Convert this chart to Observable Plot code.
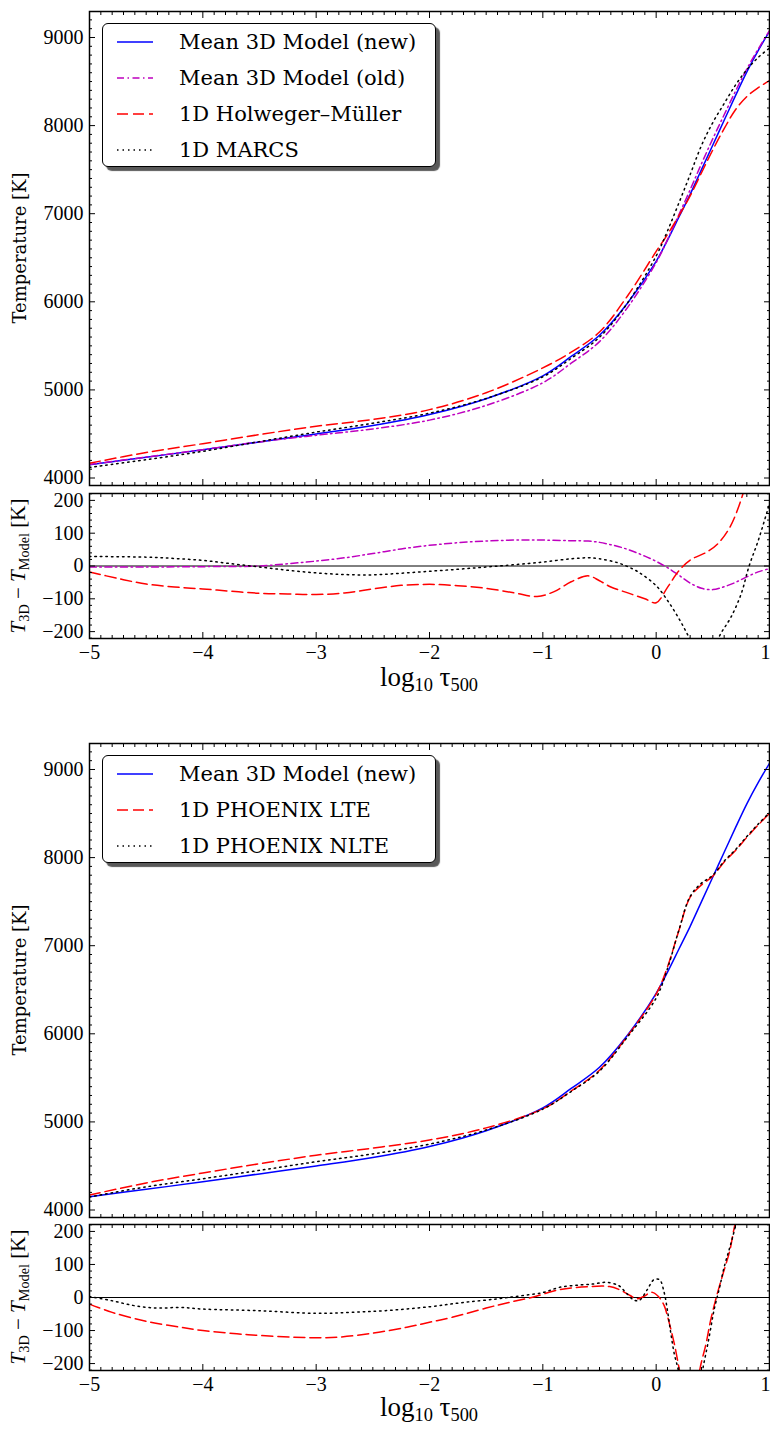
<!DOCTYPE html>
<html><head><meta charset="utf-8">
<script src="https://cdn.jsdelivr.net/npm/d3@7"></script>
<script src="https://cdn.jsdelivr.net/npm/@observablehq/plot@0.6"></script>
<style>
body{margin:0;background:#fff;}
#root{position:relative;width:770px;height:1430px;overflow:hidden;background:#fff;}
.pan{position:absolute;left:0;}
.lab{position:absolute;white-space:nowrap;color:#000;line-height:1;}
.rot{transform:translate(-50%,-50%) rotate(-90deg);}
.ctr{transform:translate(-50%,-50%);}
sub{font-size:0.68em;vertical-align:-0.32em;line-height:0;}
.leg{position:absolute;left:102px;width:334px;border:1.5px solid #000;border-radius:6px;background:#fff;box-shadow:4px 4px 1px rgba(0,0,0,0.65);box-sizing:border-box;}
.legt{position:absolute;left:76px;transform:translateY(-50%);font-family:'DejaVu Serif',serif;font-size:21px;line-height:1;white-space:nowrap;color:#000;}
.legs{position:absolute;left:13px;}
</style></head>
<body><div id="root"></div>
<script>
// ---------- data ----------
// temperature grid (log10 tau500)
const tauT = [-5, -4.5, -4, -3.5, -3, -2.5, -2, -1.5, -1, -0.75, -0.5, -0.25, 0, 0.1, 0.2, 0.3, 0.4, 0.5, 0.6, 0.7, 0.8, 0.9, 1];
const T_new   = [4150, 4235, 4320, 4410, 4500, 4595, 4720, 4900, 5160, 5380, 5620, 5990, 6460, 6700, 6960, 7220, 7500, 7780, 8060, 8340, 8610, 8850, 9070];
const T_old   = [4153, 4238, 4322, 4410, 4485, 4557, 4657, 4824, 5081, 5303, 5548, 5940, 6446, 6705, 6988, 7272, 7568, 7852, 8123, 8390, 8643, 8868, 9078];
const T_HM    = [4168, 4290, 4390, 4493, 4587, 4665, 4776, 4968, 5250, 5428, 5658, 6072, 6572, 6765, 6975, 7202, 7465, 7725, 7965, 8180, 8330, 8430, 8510];
const T_MARCS = [4121, 4208, 4303, 4413, 4521, 4622, 4736, 4903, 5148, 5358, 5598, 5992, 6520, 6805, 7120, 7445, 7775, 8035, 8250, 8460, 8635, 8773, 8880];
const T_LTE   = [4170, 4307, 4420, 4525, 4622, 4703, 4795, 4932, 5148, 5350, 5587, 5980, 6450, 6760, 7170, 7550, 7690, 7790, 7950, 8080, 8230, 8370, 8500];
const T_NLTE  = [4147, 4263, 4355, 4450, 4548, 4637, 4748, 4908, 5145, 5345, 5577, 5970, 6406, 6740, 7175, 7560, 7710, 7800, 7960, 8090, 8240, 8380, 8510];

// residuals T3D - Tmodel, panel 1
const tauOld = [-5, -4.5, -4, -3.5, -3.25, -3, -2.75, -2.5, -2.25, -2, -1.75, -1.5, -1.25, -1, -0.75, -0.6, -0.5, -0.4, -0.3, -0.2, -0.1, 0, 0.1, 0.2, 0.3, 0.4, 0.5, 0.6, 0.7, 0.8, 0.9, 1];
const resOld = [-3, -3, -2, 0, 7, 15, 25, 38, 52, 63, 71, 76, 79, 79, 77, 76, 72, 65, 56, 44, 30, 14, -5, -28, -52, -68, -72, -63, -50, -33, -18, -8];
const tauHM = [-5, -4.75, -4.5, -4.25, -4, -3.75, -3.5, -3.25, -3, -2.75, -2.5, -2.25, -2, -1.75, -1.5, -1.25, -1.05, -0.9, -0.75, -0.6, -0.5, -0.4, -0.25, -0.1, 0, 0.1, 0.2, 0.3, 0.45, 0.55, 0.65, 0.75, 0.85, 1];
const resHM = [-18, -38, -55, -64, -70, -77, -83, -85, -87, -82, -70, -59, -56, -60, -68, -82, -93, -78, -48, -30, -45, -64, -82, -100, -112, -65, -15, 18, 43, 70, 118, 203, 330, 560];
const tauMARCS = [-5, -4.5, -4.25, -4, -3.75, -3.5, -3.25, -3, -2.75, -2.5, -2.25, -2, -1.75, -1.5, -1.25, -1, -0.75, -0.6, -0.5, -0.35, -0.25, -0.15, 0, 0.1, 0.2, 0.28, 0.35, 0.42, 0.5, 0.57, 0.66, 0.75, 0.82, 0.9, 1];
const resMARCS = [29, 27, 23, 17, 7, -3, -13, -21, -26, -27, -22, -16, -10, -3, 4, 12, 22, 25, 22, 11, -2, -20, -60, -105, -160, -211, -262, -285, -255, -206, -156, -85, 0, 77, 190];

// residuals panel 2
const tauLTE = [-5, -4.8, -4.5, -4.2, -4, -3.7, -3.5, -3.2, -3, -2.8, -2.5, -2.2, -2, -1.8, -1.5, -1.3, -1.1, -0.85, -0.6, -0.41, -0.32, -0.23, -0.17, -0.11, -0.04, 0.02, 0.07, 0.11, 0.16, 0.2, 0.3, 0.39, 0.44, 0.48, 0.53, 0.59, 0.65, 0.69, 0.75];
const resLTE = [-20, -45, -72, -90, -100, -110, -115, -120, -122, -120, -108, -90, -75, -60, -32, -15, 0, 24, 33, 33, 23, 6, -4, 3, 16, 3, -24, -70, -140, -210, -380, -210, -140, -70, 0, 72, 142, 213, 290];
const tauNLTE = [-5, -4.8, -4.6, -4.4, -4.2, -4, -3.5, -3, -2.7, -2.4, -2, -1.7, -1.4, -1.2, -1, -0.85, -0.67, -0.55, -0.44, -0.33, -0.27, -0.2, -0.15, -0.08, -0.02, 0.03, 0.07, 0.1, 0.13, 0.16, 0.19, 0.3, 0.42, 0.47, 0.51, 0.56, 0.6, 0.65, 0.69, 0.75];
const resNLTE = [3, -10, -25, -32, -30, -35, -40, -48, -45, -40, -28, -15, -4, 5, 15, 31, 38, 41, 46, 36, 16, -7, -9, 23, 54, 54, 16, -40, -110, -171, -212, -400, -201, -115, -39, 31, 92, 152, 203, 290];

// ticks
const xMajor = [-5, -4, -3, -2, -1, 0, 1];
const tMajor = [4000, 5000, 6000, 7000, 8000, 9000];
const rMajor = [-200, -100, 0, 100, 200];

// ---------- styles ----------
const S = {
  new:   {label: "Mean 3D Model (new)", color: "#0000ff", dash: null},
  old:   {label: "Mean 3D Model (old)", color: "#bf00bf", dash: "7,3.5,1.5,3.5"},
  hm:    {label: "1D Holweger\u2013M\u00fcller", color: "#ff0000", dash: "11,5"},
  marcs: {label: "1D MARCS", color: "#000000", dash: "1.5,4"},
  lte:   {label: "1D PHOENIX LTE", color: "#ff0000", dash: "11,5"},
  nlte:  {label: "1D PHOENIX NLTE", color: "#000000", dash: "1.5,4"}
};

const fmt = d => d < 0 ? "\u2212" + Math.abs(d) : String(d);
const blank = () => "";
const xMinor = d3.range(-50, 11).map(i => i / 10).filter(v => Math.abs(v - Math.round(v)) > 1e-6);
const tMinor = d3.range(40, 93).map(i => i * 100).filter(v => v % 1000 !== 0);
const rMinor = d3.range(-11, 12).map(i => i * 20).filter(v => v % 100 !== 0);
const xInner = xMajor.filter(v => v < 1);
const xLast = xMajor.filter(v => v >= 1);

function axes(yMajor, yMinor, xLabels) {
  const labelMarks = xLabels ? [
    Plot.axisX(xInner, {anchor: "bottom", tickSize: -6, tickPadding: 12, tickFormat: fmt, label: null}),
    Plot.axisX(xLast, {anchor: "bottom", tickSize: -6, tickPadding: 12, tickFormat: fmt, textAnchor: "end", dx: 1, label: null})
  ] : [
    Plot.axisX(xMajor, {anchor: "bottom", tickSize: -6, tickFormat: blank, label: null})
  ];
  return [
    ...labelMarks,
    Plot.axisX(xMinor, {anchor: "bottom", tickSize: -3, tickFormat: blank, label: null}),
    Plot.axisX(xMajor, {anchor: "top", tickSize: -6, tickFormat: blank, label: null}),
    Plot.axisX(xMinor, {anchor: "top", tickSize: -3, tickFormat: blank, label: null}),
    Plot.axisY(yMajor, {anchor: "left", tickSize: -6, tickPadding: 12, tickFormat: fmt, label: null}),
    Plot.axisY(yMinor, {anchor: "left", tickSize: -3, tickFormat: blank, label: null}),
    Plot.axisY(yMajor, {anchor: "right", tickSize: -6, tickFormat: blank, label: null}),
    Plot.axisY(yMinor, {anchor: "right", tickSize: -3, tickFormat: blank, label: null}),
    Plot.frame({stroke: "#000", strokeWidth: 1.5})
  ];
}

function lineOf(xs, ys, st) {
  return Plot.line(ys, {x: xs, y: ys, stroke: st.color, strokeWidth: 1.5,
    strokeDasharray: st.dash || undefined, curve: "catmull-rom", clip: true});
}

const baseStyle = {fontFamily: "'Liberation Serif', serif", fontSize: "20px", color: "#000", background: "transparent", overflow: "visible"};

function tempPanel(lines) {
  return Plot.plot({
    width: 770, height: 478,
    marginLeft: 89, marginRight: 1, marginTop: 2, marginBottom: 2,
    x: {domain: [-5, 1], label: null},
    y: {domain: [3915, 9295], label: null},
    style: baseStyle,
    marks: [...lines, ...axes(tMajor, tMinor, false)]
  });
}
function resPanel(lines, h) {
  return Plot.plot({
    width: 770, height: h,
    marginLeft: 89, marginRight: 1, marginTop: 2, marginBottom: 30,
    x: {domain: [-5, 1], label: null},
    y: {domain: [-221, 221], label: null},
    style: baseStyle,
    marks: [Plot.ruleY([0], {stroke: "#000", strokeWidth: 1}), ...lines, ...axes(rMajor, rMinor, true)]
  });
}

const root = document.getElementById("root");
function place(el, top) {
  const d = document.createElement("div");
  d.className = "pan"; d.style.top = top + "px";
  d.appendChild(el); root.appendChild(d);
}
function label(html, x, y, cls, font, size) {
  const d = document.createElement("div");
  d.className = "lab " + cls;
  d.style.left = x + "px"; d.style.top = y + "px";
  d.style.fontFamily = font; d.style.fontSize = size + "px";
  d.innerHTML = html; root.appendChild(d);
}
function legend(top, items) {
  const box = document.createElement("div");
  box.className = "leg";
  box.style.top = top + "px";
  box.style.height = (36 * items.length) + "px";
  items.forEach((st, i) => {
    const cy = 17.5 + 36 * i;
    const svg = d3.create("svg").attr("class", "legs").attr("width", 38).attr("height", 6)
      .style("top", (cy - 3) + "px");
    svg.append("line").attr("x1", 1).attr("x2", 37).attr("y1", 3).attr("y2", 3)
      .attr("stroke", st.color).attr("stroke-width", 1.5)
      .attr("stroke-dasharray", st.dash || null);
    box.appendChild(svg.node());
    const t = document.createElement("div");
    t.className = "legt"; t.style.top = cy + "px"; t.textContent = st.label;
    box.appendChild(t);
  });
  root.appendChild(box);
}

// ---- panel 1 ----
place(tempPanel([
  lineOf(tauT, T_new, S.new), lineOf(tauT, T_old, S.old),
  lineOf(tauT, T_HM, S.hm), lineOf(tauT, T_MARCS, S.marcs)
]), 9);
place(resPanel([
  lineOf(tauOld, resOld, S.old), lineOf(tauHM, resHM, S.hm), lineOf(tauMARCS, resMARCS, S.marcs)
], 177), 491);

// ---- panel 2 ----
place(tempPanel([
  lineOf(tauT, T_new, S.new), lineOf(tauT, T_LTE, S.lte), lineOf(tauT, T_NLTE, S.nlte)
]), 741);
place(resPanel([
  lineOf(tauLTE, resLTE, S.lte), lineOf(tauNLTE, resNLTE, S.nlte)
], 178), 1222);

// labels
const ylabT = "Temperature [K]";
const ylabR = "<i>T</i><sub>3D</sub> \u2212 <i>T</i><sub>Model</sub> [K]";
const xlab = "log<sub>10</sub> \u03c4<sub>500</sub>";
label(ylabT, 20, 248, "rot", "'DejaVu Serif', serif", 18);
label(ylabT, 20, 980, "rot", "'DejaVu Serif', serif", 18);
label(ylabR, 18, 566, "rot", "'Liberation Serif', serif", 21);
label(ylabR, 18, 1297, "rot", "'Liberation Serif', serif", 21);
label(xlab, 429, 677, "ctr", "'Liberation Serif', serif", 27);
label(xlab, 429, 1407, "ctr", "'Liberation Serif', serif", 27);

legend(23, [S.new, S.old, S.hm, S.marcs]);
legend(755, [S.new, S.lte, S.nlte]);
</script>
</body></html>
